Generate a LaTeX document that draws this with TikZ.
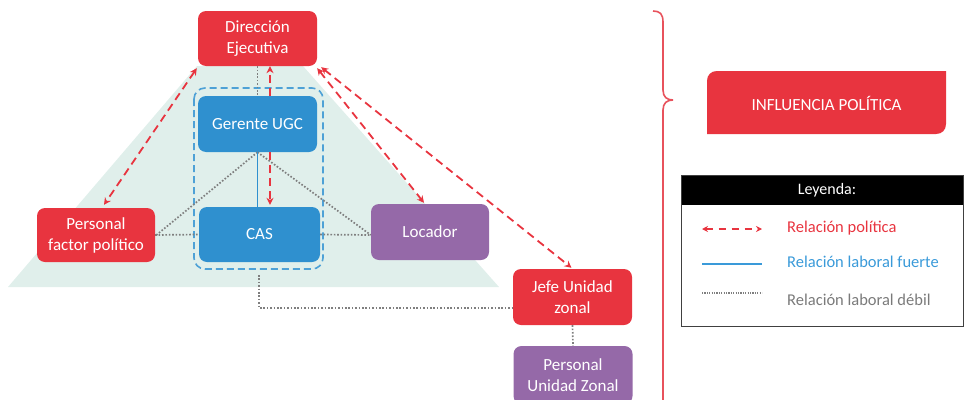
\documentclass[tikz,border=0pt]{standalone}
\usepackage{fontspec}
\setmainfont{Carlito}
\usetikzlibrary{arrows.meta,calc}
\definecolor{polred}{HTML}{E8343F}
\definecolor{brace}{HTML}{E8525C}
\definecolor{ugcblue}{HTML}{2F90CF}
\definecolor{legblue}{HTML}{3A9AD9}
\definecolor{lilac}{HTML}{9569A8}
\definecolor{mint}{HTML}{E0EFEB}
\definecolor{weakgray}{HTML}{7F7F7F}
\definecolor{legtext}{HTML}{7A7A7A}
\begin{document}
\begin{tikzpicture}[x=1pt,y=-1pt,
  font=\fontsize{17}{21}\selectfont,
  box/.style={rounded corners=8pt, inner sep=0pt, text=white, align=center,
    minimum width=119pt, minimum height=56pt},
  polarrow/.style={draw=polred, line width=1.8pt, dash pattern=on 8pt off 5pt,
    {Stealth[length=7pt,width=7pt]}-{Stealth[length=7pt,width=7pt]}},
  polone/.style={draw=polred, line width=1.8pt, dash pattern=on 8pt off 5pt,
    -{Stealth[length=7pt,width=7pt]}},
  weak/.style={draw=weakgray, line width=1.7pt, dash pattern=on 1.6pt off 1.8pt},
  strong/.style={draw=ugcblue, line width=1.8pt},
  legitem/.style={anchor=west, inner sep=0pt, font=\fontsize{16.5}{20}\selectfont}]
\useasboundingbox (0,0) rectangle (964,399);

% pyramid backdrop
\fill[mint] (197,66) -- (303,66) -- (499,287) -- (8,287) -- cycle;

% dashed group round the UGC staff
\draw[ugcblue!85, line width=1.6pt, dash pattern=on 7pt off 4pt, rounded corners=11pt]
  (194,88) rectangle (323,269);

% boxes
\node[box, fill=polred, minimum height=55pt] (dir) at (257.5,38.5) {Dirección\\Ejecutiva};
\node[box, fill=ugcblue] (ger) at (257.5,124) {Gerente UGC};
\node[box, fill=ugcblue, minimum width=121pt, minimum height=55pt] (cas) at (259.5,234.5) {CAS};
\node[box, fill=polred, minimum width=118pt, minimum height=54pt] (pfp) at (96,235) {Personal\\factor político};
\node[box, fill=lilac, minimum width=118pt] (loc) at (430,232) {Locador};
\node[box, fill=polred] (jefe) at (572.5,297) {Jefe Unidad\\zonal};
\node[box, fill=lilac, minimum height=58pt] (puz) at (573,375) {Personal\\Unidad Zonal};

% weak working relations
\draw[weak] (dir.south) -- (ger.north);
\draw[weak] (ger.south) -- ([yshift=-1pt]pfp.east);
\draw[weak] (ger.south) -- ([yshift=-3pt]loc.west);
\draw[weak] (pfp.east) -- (cas.west);
\draw[weak] (cas.east) -- ([yshift=-3pt]loc.west);
\coordinate (drop) at (259,275);
\coordinate (bend) at (259,308);
\draw[weak] (drop) -- (bend) -- (jefe.west |- bend);
\draw[weak] (jefe.south) -- (puz.north);

% strong working relation
\draw[strong] (ger.south) -- (ger.south |- cas.north);

% political relations
\draw[polone] ([xshift=12.5pt]ger.north) -- ([xshift=12.5pt]dir.south);
\draw[polone] ([xshift=12.5pt]ger.south) -- ([xshift=10.5pt,yshift=2pt]cas.north);
\draw[polarrow] ([xshift=-1pt,yshift=-2pt]dir.south west) -- ([xshift=8pt,yshift=3pt]pfp.north);
\draw[polarrow] ([yshift=-2pt]dir.south east) -- ([xshift=-6pt,yshift=1pt]loc.north);
\draw[polarrow] ([xshift=4pt,yshift=-1pt]dir.south east) -- ([xshift=-1pt,yshift=1pt]jefe.north);

% brace grouping everything under political influence
\draw[brace, line width=1.6pt]
  (653,11) .. controls (660,11) and (663,14) .. (663,22)
  -- (663,90) .. controls (663,97) and (667,100) .. (673,100)
  (673,100) .. controls (667,100) and (663,103) .. (663,110)
  -- (663,402);

% influence label with two rounded corners
\fill[polred] (707,134) -- (707,81) .. controls (707,75) and (711,71) .. (717,71)
  -- (946,71) -- (946,124) .. controls (946,130) and (942,134) .. (936,134) -- cycle;
\node[text=white, inner sep=0pt] (infl) at (826.5,103) {INFLUENCIA POLÍTICA};

% legend
\fill[black] (681,175) rectangle (964,205);
\draw[black!75, line width=1pt] (681,175) rectangle (963.5,326);
\node[text=white, inner sep=0pt, font=\fontsize{16}{19}\selectfont] (legtitle) at (827,190) {Leyenda:};
\coordinate (l1a) at (702,229); \coordinate (l1b) at (762,229);
\coordinate (l2a) at (702,264); \coordinate (l2b) at (762,264);
\coordinate (l3a) at (702,293); \coordinate (l3b) at (762,293);
\draw[polarrow, line width=1.5pt, dash pattern=on 7pt off 6pt,
  {Stealth[length=6pt,width=6pt]}-{Stealth[length=6pt,width=6pt]}] (l1a) -- (l1b);
\draw[strong, draw=legblue] (l2a) -- (l2b);
\draw[draw=weakgray, line width=1.2pt, dash pattern=on 1.2pt off 1.2pt] (l3a) -- (l3b);
\node[legitem, text=polred] (t1) at (787,228) {Relación política};
\node[legitem, text=legblue] (t2) at (787,262) {Relación laboral fuerte};
\node[legitem, text=legtext] (t3) at (787,300) {Relación laboral débil};
\end{tikzpicture}
\end{document}
